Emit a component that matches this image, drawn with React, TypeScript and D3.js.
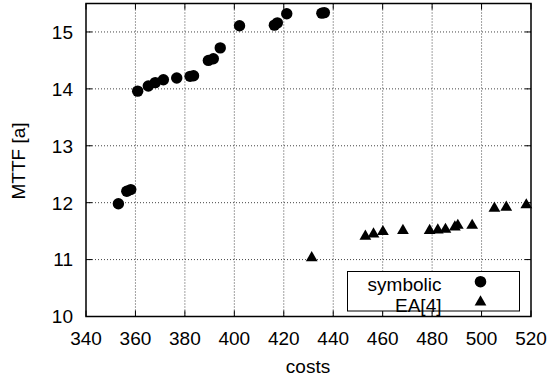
import { useEffect, useRef } from 'react'
import * as d3 from 'd3'

// symbolic: [costs, MTTF]
const symbolicCosts = [353.1, 356.5, 358.1, 360.9, 365.2, 368, 371.3, 376.7, 382.1, 383.5, 389.5, 391.5, 394.3, 402.1, 416.2, 417.4, 421.2, 435.4, 436.4]
const symbolicMttf = [11.98, 12.2, 12.23, 13.96, 14.05, 14.11, 14.16, 14.19, 14.22, 14.23, 14.5, 14.53, 14.72, 15.11, 15.12, 15.16, 15.32, 15.33, 15.34]

// EA[4]
const eaCosts = [431.3, 453, 456.3, 460.1, 468.2, 479, 482.3, 485.4, 489.2, 490.4, 496.2, 505.2, 510, 518.1]
const eaMttf = [11.03, 11.41, 11.45, 11.49, 11.51, 11.51, 11.52, 11.53, 11.57, 11.6, 11.6, 11.9, 11.92, 11.96]

const xTicks = [340, 360, 380, 400, 420, 440, 460, 480, 500, 520]
const yTicks = [10, 11, 12, 13, 14, 15]

function App() {
  const svgRef = useRef<SVGSVGElement>(null)

  useEffect(() => {
    const width = 551
    const height = 381
    const margin = { top: 3.5, right: 20, bottom: 64.5, left: 86 }
    const innerW = width - margin.left - margin.right
    const innerH = height - margin.top - margin.bottom

    const svg = d3.select(svgRef.current)
    svg.selectAll('*').remove()
    svg.attr('width', width).attr('height', height)
      .style('font-family', '"Liberation Sans", Arial, sans-serif')

    const x = d3.scaleLinear().domain([340, 520]).range([0, innerW])
    const y = d3.scaleLinear().domain([10, 15.5]).range([innerH, 0])

    const g = svg.append('g').attr('transform', `translate(${margin.left},${margin.top})`)

    // grid
    g.selectAll('.vgrid')
      .data(xTicks.slice(1, -1))
      .enter().append('line')
      .attr('x1', d => x(d)).attr('x2', d => x(d))
      .attr('y1', 0).attr('y2', innerH)
      .attr('stroke', '#444').attr('stroke-width', 1)
      .attr('stroke-dasharray', '1,2')
    g.selectAll('.hgrid')
      .data(yTicks.slice(1))
      .enter().append('line')
      .attr('x1', 0).attr('x2', innerW)
      .attr('y1', d => y(d)).attr('y2', d => y(d))
      .attr('stroke', '#444').attr('stroke-width', 1)
      .attr('stroke-dasharray', '1,2')

    // tick marks inward on all four sides
    const tl = 6
    xTicks.forEach(t => {
      g.append('line').attr('x1', x(t)).attr('x2', x(t)).attr('y1', innerH).attr('y2', innerH - tl).attr('stroke', '#000')
      g.append('line').attr('x1', x(t)).attr('x2', x(t)).attr('y1', 0).attr('y2', tl).attr('stroke', '#000')
    })
    yTicks.forEach(t => {
      g.append('line').attr('x1', 0).attr('x2', tl).attr('y1', y(t)).attr('y2', y(t)).attr('stroke', '#000')
      g.append('line').attr('x1', innerW - tl).attr('x2', innerW).attr('y1', y(t)).attr('y2', y(t)).attr('stroke', '#000')
    })

    // tick labels
    g.selectAll('.xl')
      .data(xTicks)
      .enter().append('text')
      .attr('x', d => x(d)).attr('y', innerH + 28)
      .attr('text-anchor', 'middle')
      .attr('font-size', '19px')
      .text(d => d)
    g.selectAll('.yl')
      .data(yTicks)
      .enter().append('text')
      .attr('x', -13).attr('y', d => y(d))
      .attr('dy', '0.36em')
      .attr('text-anchor', 'end')
      .attr('font-size', '19px')
      .text(d => d)

    // axis titles
    svg.append('text')
      .attr('x', 308).attr('y', 372.5)
      .attr('text-anchor', 'middle')
      .attr('font-size', '19px')
      .text('costs')
    svg.append('text')
      .attr('transform', `translate(25,161) rotate(-90)`)
      .attr('text-anchor', 'middle')
      .attr('font-size', '19px')
      .text('MTTF [a]')

    // points
    const tri = d3.symbol().type(d3.symbolTriangle).size(60)

    g.selectAll('.sym')
      .data(symbolicCosts.map((c, i) => [c, symbolicMttf[i]]))
      .enter().append('circle')
      .attr('cx', d => x(d[0])).attr('cy', d => y(d[1]))
      .attr('r', 5.7)
      .attr('fill', '#000')

    g.selectAll('.ea')
      .data(eaCosts.map((c, i) => [c, eaMttf[i]]))
      .enter().append('path')
      .attr('d', tri)
      .attr('transform', d => `translate(${x(d[0])},${y(d[1])})`)
      .attr('fill', '#000')

    // frame
    g.append('rect')
      .attr('width', innerW).attr('height', innerH)
      .attr('fill', 'none').attr('stroke', '#000').attr('stroke-width', 1.5)

    // legend
    const lg = svg.append('g')
    lg.append('rect')
      .attr('x', 347.5).attr('y', 271.5).attr('width', 172).attr('height', 39.5)
      .attr('fill', '#fff').attr('stroke', '#000').attr('stroke-width', 1)
    lg.append('text').attr('x', 441.5).attr('y', 290.5)
      .attr('text-anchor', 'end').attr('font-size', '19px').text('symbolic')
    lg.append('text').attr('x', 441.5).attr('y', 311.5)
      .attr('text-anchor', 'end').attr('font-size', '19px').text('EA[4]')
    lg.append('circle').attr('cx', 480.5).attr('cy', 281.7).attr('r', 5.8).attr('fill', '#000')
    lg.append('path').attr('d', tri).attr('transform', 'translate(480.5,302)').attr('fill', '#000')
  }, [])

  return <svg ref={svgRef} style={{ position: 'absolute', left: 0, top: 0 }} />
}

export default App
